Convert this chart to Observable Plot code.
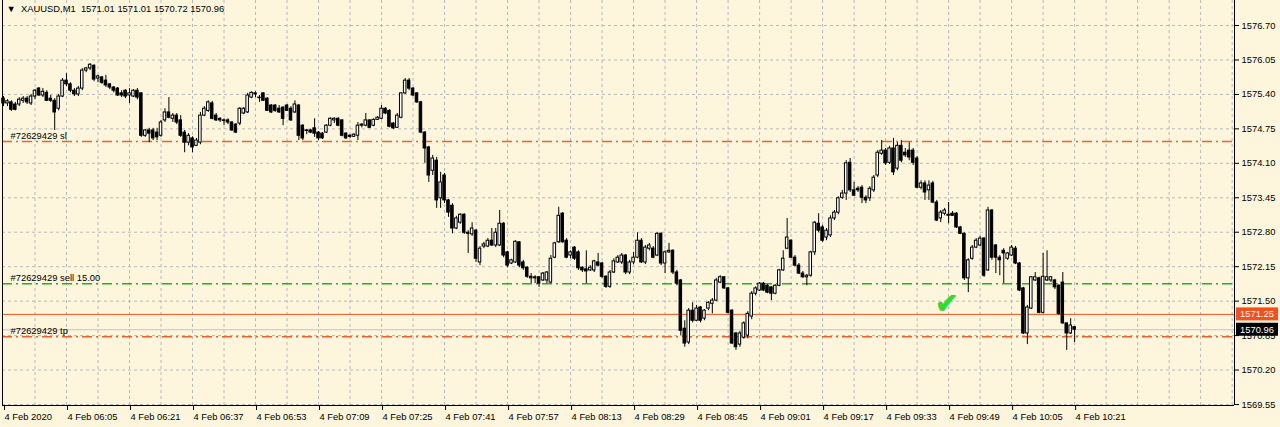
<!DOCTYPE html>
<html><head><meta charset="utf-8">
<script src="https://cdn.jsdelivr.net/npm/d3@7"></script>
<script src="https://cdn.jsdelivr.net/npm/@observablehq/plot@0.6"></script>
<style>
html,body{margin:0;padding:0;background:#fdf6dc;}
#chart svg{display:block;}
</style></head><body><div id="chart"></div>
<script>
// ---- data ----
const symbolTitle = "XAUUSD,M1  1571.01 1571.01 1570.72 1570.96";
const firstBarUTC = [2020, 1, 4, 5, 49]; // 4 Feb 2020 05:49, M1 bars

const open = [
1575.32,1575.23,1575.25,1575.21,1575.21,1575.28,1575.32,1575.23,1575.36,1575.51,
1575.38,1575.43,1575.32,1575.28,1575.13,1575.36,1575.66,1575.59,1575.47,1575.40,
1575.51,1575.85,1575.89,1575.94,1575.70,1575.72,1575.66,1575.59,1575.53,1575.51,
1575.42,1575.47,1575.38,1575.36,1575.47,1575.42,1574.62,1574.72,1574.72,1574.68,
1574.62,1574.91,1575.06,1574.94,1575.00,1574.91,1574.68,1574.49,1574.57,1574.43,
1574.49,1575.00,1575.09,1575.23,1575.00,1574.94,1574.91,1574.91,1574.87,1574.83,
1574.85,1575.04,1575.06,1575.34,1575.42,1575.34,1575.42,1575.32,1575.19,1575.19,
1575.13,1575.15,1575.19,1575.13,1575.06,1575.19,1574.81,1574.72,1574.72,1574.76,
1574.68,1574.66,1574.68,1574.81,1574.91,1574.94,1574.91,1574.66,1574.62,1574.60,
1574.62,1574.81,1574.81,1574.91,1574.81,1574.92,1574.94,1575.13,1575.09,1574.85,
1574.77,1574.96,1575.42,1575.66,1575.51,1575.42,1575.25,1574.68,1574.40,1573.96,
1574.15,1573.44,1573.87,1573.40,1573.30,1572.87,1572.98,1573.13,1572.79,1572.76,
1572.83,1572.23,1572.53,1572.53,1572.64,1572.55,1572.55,1572.96,1572.42,1572.21,
1572.23,1572.61,1572.23,1572.13,1571.96,1571.93,1571.95,1571.89,1571.89,1571.85,
1572.32,1572.61,1573.15,1572.64,1572.36,1572.51,1572.42,1572.13,1572.10,1572.08,
1572.08,1572.23,1572.21,1571.96,1571.77,1572.04,1572.23,1572.23,1572.36,1572.04,
1572.23,1572.32,1572.64,1572.23,1572.49,1572.49,1572.36,1572.77,1572.21,1572.42,
1572.45,1572.04,1571.89,1570.98,1570.72,1571.32,1571.13,1571.38,1571.17,1571.36,
1571.45,1571.51,1571.85,1571.95,1571.74,1571.32,1570.89,1570.68,1570.81,1570.85,
1571.21,1571.64,1571.70,1571.83,1571.79,1571.76,1571.64,1571.79,1572.08,1572.49,
1572.64,1572.32,1572.17,1572.02,1571.95,1571.98,1572.42,1572.96,1572.89,1572.70,
1572.74,1573.06,1573.17,1573.45,1573.53,1574.11,1573.59,1573.62,1573.64,1573.45,
1573.44,1573.59,1573.87,1574.28,1574.34,1574.11,1574.38,1574.00,1574.43,1574.30,
1574.34,1574.34,1574.19,1573.64,1573.72,1573.59,1573.72,1573.36,1573.06,1573.15,
1573.11,1573.15,1573.15,1572.89,1572.77,1571.93,1572.30,1572.51,1572.55,1572.68,
1572.08,1573.21,1572.55,1572.32,1572.45,1572.30,1572.36,1572.49,1572.21,1571.74,
1570.89,1571.36,1571.89,1571.93,1571.28,1571.89,1571.89,1571.89,1571.79,1571.85,
1571.08,1570.89,1571.01];

const high = [
1575.36,1575.30,1575.28,1575.25,1575.34,1575.36,1575.36,1575.40,1575.49,1575.53,
1575.51,1575.47,1575.38,1575.32,1575.40,1575.70,1575.79,1575.62,1575.51,1575.55,
1575.89,1575.91,1575.98,1575.96,1575.76,1575.74,1575.76,1575.60,1575.55,1575.53,
1575.47,1575.49,1575.51,1575.49,1575.51,1575.43,1574.74,1574.76,1574.76,1574.76,
1574.91,1575.13,1575.34,1575.04,1575.04,1575.00,1574.72,1574.66,1574.60,1574.57,
1575.06,1575.17,1575.28,1575.27,1575.04,1574.96,1574.94,1574.94,1574.89,1574.85,
1575.15,1575.15,1575.42,1575.45,1575.45,1575.38,1575.43,1575.34,1575.21,1575.21,
1575.19,1575.17,1575.21,1575.17,1575.28,1575.21,1574.83,1574.74,1574.74,1574.94,
1574.70,1574.68,1574.83,1574.96,1574.96,1574.96,1574.92,1574.68,1574.64,1574.66,
1574.87,1574.85,1575.04,1574.92,1574.94,1574.98,1575.19,1575.15,1575.11,1574.87,
1575.04,1575.43,1575.70,1575.70,1575.53,1575.43,1575.27,1574.70,1574.42,1574.25,
1574.21,1573.93,1573.91,1573.42,1573.34,1573.10,1573.15,1573.15,1572.83,1572.98,
1572.85,1572.53,1572.61,1572.68,1572.87,1572.87,1573.21,1572.98,1572.44,1572.29,
1572.64,1572.62,1572.27,1572.15,1572.02,1571.98,1571.96,1572.04,1572.06,1572.36,
1572.61,1573.27,1573.17,1572.68,1572.45,1572.53,1572.45,1572.15,1572.45,1572.17,
1572.27,1572.40,1572.23,1571.98,1572.08,1572.30,1572.36,1572.40,1572.38,1572.27,
1572.42,1572.79,1572.68,1572.55,1572.59,1572.53,1572.79,1572.79,1572.45,1572.59,
1572.47,1572.08,1571.91,1571.13,1571.36,1571.47,1571.42,1571.40,1571.34,1571.49,
1571.55,1571.93,1571.98,1571.96,1571.76,1571.34,1570.91,1570.93,1571.11,1571.30,
1571.68,1571.77,1571.85,1571.85,1571.81,1571.77,1571.81,1572.10,1572.45,1573.06,
1572.66,1572.36,1572.21,1572.06,1572.00,1572.44,1573.00,1573.15,1572.93,1572.87,
1573.11,1573.21,1573.47,1573.59,1574.15,1574.19,1573.74,1573.66,1573.68,1573.49,
1573.66,1573.87,1574.34,1574.53,1574.38,1574.42,1574.57,1574.49,1574.53,1574.38,
1574.49,1574.38,1574.23,1573.77,1573.77,1573.77,1573.76,1573.40,1573.21,1573.25,
1573.36,1573.19,1573.17,1572.91,1572.79,1572.30,1572.55,1572.68,1572.72,1572.70,
1573.27,1573.23,1572.57,1572.36,1572.49,1572.42,1572.55,1572.53,1572.23,1571.76,
1571.42,1571.96,1572.04,1571.95,1572.40,1572.45,1571.96,1571.91,1571.81,1572.04,
1571.09,1571.17,1571.01];

const low = [
1575.17,1575.17,1575.08,1575.09,1575.17,1575.23,1575.21,1575.19,1575.30,1575.36,
1575.34,1575.27,1575.25,1574.72,1575.09,1575.34,1575.55,1575.43,1575.36,1575.36,
1575.47,1575.81,1575.85,1575.64,1575.62,1575.59,1575.53,1575.49,1575.43,1575.36,
1575.34,1575.32,1575.23,1575.34,1575.30,1574.59,1574.59,1574.49,1574.53,1574.53,
1574.59,1574.87,1574.94,1574.87,1574.83,1574.59,1574.30,1574.43,1574.30,1574.42,
1574.45,1574.98,1575.06,1574.92,1574.89,1574.87,1574.81,1574.83,1574.70,1574.66,
1574.81,1575.02,1575.04,1575.32,1575.34,1575.25,1575.27,1575.08,1575.04,1575.06,
1575.04,1574.81,1575.08,1574.89,1575.04,1574.53,1574.53,1574.64,1574.66,1574.59,
1574.53,1574.55,1574.66,1574.79,1574.85,1574.79,1574.60,1574.55,1574.57,1574.59,
1574.53,1574.77,1574.79,1574.76,1574.79,1574.91,1574.92,1575.02,1574.77,1574.74,
1574.76,1574.94,1575.40,1575.47,1575.36,1575.23,1574.66,1574.10,1573.74,1573.87,
1573.25,1573.25,1573.34,1573.08,1572.77,1572.85,1572.95,1572.76,1572.40,1572.72,
1572.23,1572.17,1572.49,1572.51,1572.53,1572.51,1572.53,1572.32,1572.13,1572.19,
1572.21,1572.13,1572.08,1571.93,1571.83,1571.83,1571.76,1571.87,1571.83,1571.83,
1572.30,1572.59,1572.59,1572.30,1572.30,1572.27,1572.08,1572.04,1571.83,1572.06,
1572.04,1572.15,1571.93,1571.74,1571.74,1572.02,1572.21,1572.19,1572.00,1572.00,
1572.19,1572.30,1572.21,1572.19,1572.45,1572.30,1572.34,1572.17,1572.02,1572.40,
1572.00,1571.79,1570.85,1570.63,1570.68,1571.09,1571.11,1571.09,1571.13,1571.32,
1571.26,1571.49,1571.83,1571.72,1571.26,1570.68,1570.57,1570.63,1570.78,1570.79,
1571.15,1571.60,1571.68,1571.68,1571.64,1571.51,1571.62,1571.77,1572.06,1572.47,
1572.30,1572.15,1572.00,1571.93,1571.79,1571.95,1572.36,1572.79,1572.61,1572.64,
1572.70,1573.02,1573.13,1573.42,1573.40,1573.55,1573.47,1573.55,1573.34,1573.34,
1573.38,1573.55,1573.83,1574.25,1574.06,1574.08,1573.87,1573.96,1574.11,1574.21,
1574.15,1574.06,1573.62,1573.60,1573.40,1573.40,1573.34,1573.00,1572.98,1573.11,
1572.96,1573.10,1572.87,1572.76,1571.89,1571.66,1572.27,1572.49,1572.53,1571.95,
1572.06,1572.27,1572.02,1571.98,1571.83,1572.27,1572.34,1572.19,1571.68,1570.87,
1570.68,1571.34,1571.87,1571.26,1571.26,1571.87,1571.85,1571.72,1571.23,1571.06,
1570.57,1570.87,1570.72];

const close = [
1575.23,1575.27,1575.11,1575.11,1575.30,1575.32,1575.25,1575.36,1575.47,1575.38,
1575.45,1575.28,1575.28,1575.06,1575.36,1575.66,1575.59,1575.47,1575.40,1575.51,
1575.85,1575.89,1575.96,1575.68,1575.74,1575.62,1575.57,1575.53,1575.47,1575.38,
1575.38,1575.36,1575.42,1575.47,1575.34,1574.62,1574.72,1574.66,1574.57,1574.59,
1574.87,1575.06,1574.96,1575.00,1574.87,1574.62,1574.49,1574.62,1574.40,1574.53,
1575.00,1575.13,1575.25,1574.94,1574.91,1574.91,1574.90,1574.87,1574.72,1574.68,
1575.13,1575.13,1575.38,1575.43,1575.40,1575.33,1575.28,1575.09,1575.06,1575.09,
1575.06,1574.94,1575.09,1574.91,1575.21,1574.62,1574.57,1574.71,1574.68,1574.66,
1574.57,1574.57,1574.81,1574.94,1574.94,1574.81,1574.62,1574.57,1574.60,1574.64,
1574.81,1574.83,1574.91,1574.77,1574.92,1574.96,1575.13,1575.04,1574.79,1574.76,
1575.00,1575.42,1575.66,1575.51,1575.38,1575.25,1574.68,1574.38,1573.87,1574.19,
1573.40,1573.74,1573.40,1573.17,1572.87,1573.06,1573.13,1572.79,1572.77,1572.87,
1572.30,1572.49,1572.57,1572.64,1572.55,1572.79,1572.96,1572.36,1572.17,1572.27,
1572.62,1572.17,1572.12,1571.96,1571.93,1571.95,1571.83,1572.02,1572.04,1572.30,
1572.59,1573.11,1572.61,1572.32,1572.42,1572.30,1572.12,1572.08,1572.06,1572.13,
1572.25,1572.17,1571.96,1571.77,1572.04,1572.25,1572.32,1572.36,1572.04,1572.23,
1572.32,1572.64,1572.23,1572.51,1572.55,1572.32,1572.77,1572.21,1572.42,1572.45,
1572.04,1571.83,1570.94,1570.70,1571.32,1571.13,1571.36,1571.13,1571.32,1571.47,
1571.51,1571.89,1571.95,1571.74,1571.28,1570.70,1570.63,1570.89,1571.08,1571.26,
1571.64,1571.74,1571.83,1571.70,1571.66,1571.64,1571.79,1572.08,1572.30,1572.70,
1572.32,1572.17,1572.02,1571.95,1571.98,1572.42,1572.98,1572.83,1572.64,1572.83,
1573.06,1573.17,1573.44,1573.53,1574.10,1573.59,1573.49,1573.59,1573.45,1573.40,
1573.62,1573.83,1574.30,1574.34,1574.10,1574.38,1573.93,1574.43,1574.15,1574.25,
1574.21,1574.11,1573.64,1573.72,1573.55,1573.68,1573.36,1573.02,1573.17,1573.21,
1573.13,1573.11,1572.89,1572.77,1571.93,1572.27,1572.51,1572.64,1572.68,1571.98,
1573.21,1572.32,1572.32,1572.27,1572.40,1572.40,1572.51,1572.21,1571.70,1570.89,
1571.38,1571.95,1571.95,1571.28,1571.96,1571.95,1571.95,1571.76,1571.26,1571.08,
1570.89,1571.04,1570.96];

const priceTicks = [1569.55,1570.20,1570.85,1571.50,1572.15,1572.80,1573.45,1574.10,1574.75,1575.40,1576.05,1576.70];
const timeLabels = ["4 Feb 2020","4 Feb 06:05","4 Feb 06:21","4 Feb 06:37","4 Feb 06:53","4 Feb 07:09",
  "4 Feb 07:25","4 Feb 07:41","4 Feb 07:57","4 Feb 08:13","4 Feb 08:29","4 Feb 08:45","4 Feb 09:01",
  "4 Feb 09:17","4 Feb 09:33","4 Feb 09:49","4 Feb 10:05","4 Feb 10:21"];
const labelEveryMinutes = 16;
const gridEveryMinutes = 8;

const levelNames  = ["#72629429 sl", "#72629429 sell 15.00", "#72629429 tp"];
const levelPrices = [1574.51, 1571.83, 1570.83];
const levelColors = ["#f0602c", "#1fb31f", "#f0602c"];
const askPrice = 1571.25;
const bidPrice = 1570.96;
const checkMarkAt = {minute: 239.5, price: 1571.44};

// ---- build ----
const MIN = 60000;
const t0 = Date.UTC(...firstBarUTC);
const bars = open.map((o, i) => ({t: new Date(t0 + i * MIN), o, h: high[i], l: low[i], c: close[i]}));
const bull = bars.filter(d => d.c > d.o);
const bear = bars.filter(d => d.c <= d.o);
const xDomain = [new Date(t0 - 0.254 * MIN), new Date(t0 + 312.6 * MIN)];
const yDomain = [1569.531, 1577.172];
const labelTimes = timeLabels.map((_, k) => new Date(t0 + k * labelEveryMinutes * MIN));
const labelMap = new Map(labelTimes.map((t, k) => [+t, timeLabels[k]]));
const gridTimes = d3.range(1, 40).map(k => new Date(t0 + k * gridEveryMinutes * MIN));
const levels = levelNames.map((name, i) => ({name, price: levelPrices[i], color: levelColors[i]}));
const halfBody = 0.32 * MIN;
const font = "'Liberation Sans',Arial,sans-serif";
const fs = 9.4;

const plot = Plot.plot({
  width: 1280, height: 427,
  marginLeft: 2, marginRight: 46, marginTop: 0, marginBottom: 22,
  style: {background: "#fdf6dc", fontFamily: font, fontSize: fs + "px", color: "#000"},
  x: {type: "utc", domain: xDomain, axis: null, label: null},
  y: {domain: yDomain, axis: null, label: null},
  marks: [
    Plot.gridX(gridTimes, {stroke: "#b8b8b8", strokeOpacity: 1, strokeDasharray: "3,3"}),
    Plot.gridY(priceTicks, {stroke: "#b8b8b8", strokeOpacity: 1, strokeDasharray: "3,3"}),
    Plot.ruleY([bidPrice], {stroke: "#c4c4c4", strokeWidth: 1.2}),
    Plot.ruleY([askPrice], {stroke: "#f4501e", strokeWidth: 1}),
    Plot.ruleY(levels, {y: "price", stroke: d => d.color, strokeWidth: 1.5, strokeDasharray: "10,4,2,4"}),
    Plot.text(levels, {x: () => xDomain[0], y: "price", text: "name", textAnchor: "start", dx: 8, dy: -6, fill: "#000", fontSize: fs}),
    // candles
    Plot.ruleX(bars, {x: "t", y1: "l", y2: "h", stroke: "#000", strokeWidth: 1}),
    Plot.rect(bear, {x1: d => new Date(+d.t - halfBody), x2: d => new Date(+d.t + halfBody), y1: "o", y2: "c", fill: "#000", stroke: "#000", strokeWidth: 1}),
    Plot.rect(bull, {x1: d => new Date(+d.t - halfBody), x2: d => new Date(+d.t + halfBody), y1: "o", y2: "c", fill: "#fff", stroke: "#000", strokeWidth: 1}),
    // frame
    Plot.ruleY([yDomain[0]], {stroke: "#000", strokeWidth: 1}),
    Plot.ruleX([xDomain[0], xDomain[1]], {stroke: "#000", strokeWidth: 1}),
    // axes
    Plot.axisX(labelTimes, {tickFormat: d => labelMap.get(+d), label: null, textAnchor: "start", tickSize: 5, tickPadding: 3, dx: 1, stroke: "#000", fill: "#000", fontSize: fs}),
    Plot.axisY(priceTicks, {anchor: "right", label: null, tickFormat: d => d.toFixed(2), tickSize: 4, tickPadding: 3, stroke: "#000", fill: "#000", fontSize: fs}),
    // annotations
    Plot.text([checkMarkAt], {x: d => new Date(t0 + d.minute * MIN), y: "price", text: () => "\u2714", fill: "#29e029", stroke: "#0d9a0d", strokeWidth: 0.6, fontSize: 28}),
    Plot.text([symbolTitle], {frameAnchor: "top-left", text: d => "\u25BC  " + d, dx: 4, dy: 5, fill: "#000", fontSize: fs})
  ]
});

// current ask / bid price boxes on the price scale
const ys = plot.scale("y");
const svg = d3.select(plot);
[[askPrice, "#f4501e"], [bidPrice, "#000"]].forEach(([p, col]) => {
  const yy = ys.apply(p);
  const g = svg.append("g");
  g.append("rect").attr("x", 1236).attr("y", yy - 6.5).attr("width", 42).attr("height", 13).attr("fill", col);
  g.append("text").attr("x", 1240).attr("y", yy).attr("dy", "0.35em").attr("fill", "#fff")
    .attr("text-anchor", "start").attr("font-family", font).attr("font-size", fs).text(p.toFixed(2));
});

document.getElementById("chart").appendChild(plot);
</script></body></html>
